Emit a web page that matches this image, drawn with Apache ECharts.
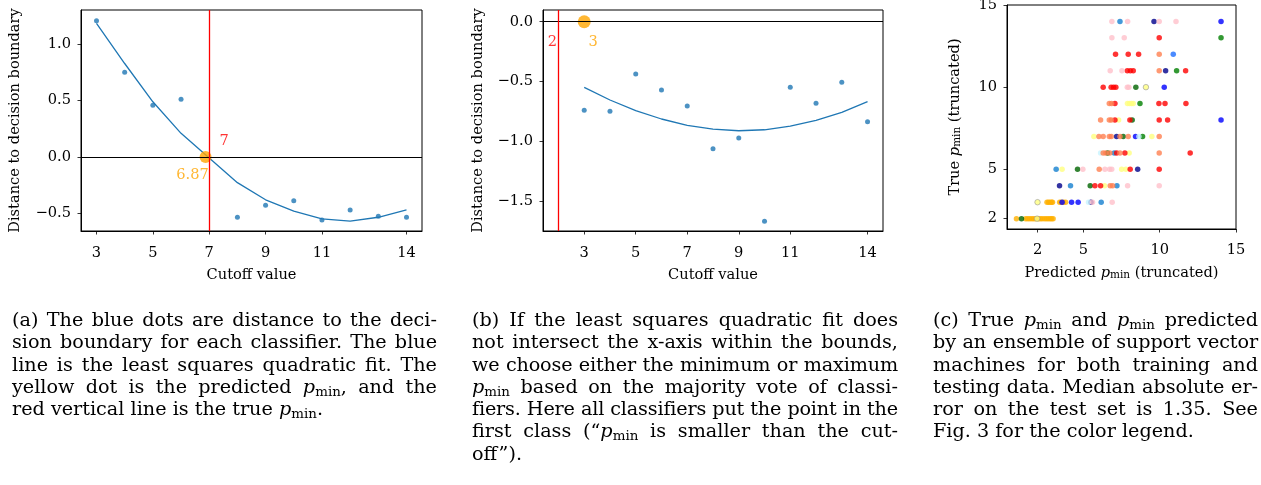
<!DOCTYPE html>
<html><head><meta charset="utf-8">
<script src="https://cdn.jsdelivr.net/npm/echarts@6/dist/echarts.min.js"></script>
<style>
html,body{margin:0;padding:0;background:#fff;}
#wrap{position:relative;width:1261px;height:485px;overflow:hidden;background:#fff;}
#chart{position:absolute;left:0;top:0;width:1261px;height:485px;}
.cap{position:absolute;top:309px;font-family:'DejaVu Serif';font-size:19.2px;line-height:22.3px;color:#000;}
.ln{display:flex;justify-content:space-between;white-space:nowrap;}
.lnlast{white-space:nowrap;}
.probe{position:absolute;visibility:hidden;white-space:nowrap;font-family:'DejaVu Serif';font-size:19.2px;}
sub{font-size:0.7em;vertical-align:-0.25em;line-height:0;}
</style></head>
<body>
<div id="wrap"><div id="chart"></div></div>
<script>
// ---------- Panel (a) data ----------
const aCutoffs = [3, 4, 5, 6, 8, 9, 10, 11, 12, 13, 14];
const aDist    = [1.21, 0.752, 0.459, 0.512, -0.536, -0.429, -0.388, -0.56, -0.471, -0.527, -0.536];
const aFit     = [1.187, 0.83, 0.49, 0.21, -0.228, -0.38, -0.48, -0.55, -0.57, -0.535, -0.47];
const aPred = 6.87;
const aTrue = 7;
const aXTicks = [3, 5, 7, 9, 11, 14];
const aYTicks = [-0.5, 0.0, 0.5, 1.0];

// ---------- Panel (b) data ----------
const bCutoffs = [3, 4, 5, 6, 7, 8, 9, 10, 11, 12, 13, 14];
const bDist    = [-0.74, -0.749, -0.436, -0.57, -0.704, -1.062, -0.972, -1.668, -0.547, -0.682, -0.506, -0.836];
const bFit     = [-0.548, -0.654, -0.743, -0.813, -0.866, -0.897, -0.911, -0.903, -0.872, -0.824, -0.757, -0.668];
const bPred = 3;
const bTrue = 2;
const bXTicks = [3, 5, 7, 9, 11, 14];
const bYTicks = [-1.5, -1.0, -0.5, 0.0];

// ---------- Panel (c) data: [predicted, true] per colour ----------
const cOrange = [[0.62,2],[1.22,2],[1.35,2],[1.48,2],[1.62,2],[1.75,2],[1.88,2],[2.05,2],[2.18,2],[2.3,2],[2.45,2],[2.58,2],[2.7,2],[2.82,2],[2.92,2],[3.02,2],
                 [2.62,3],[2.72,3],[2.82,3],[2.92,3],[2.98,3],[3.45,3],[3.55,3],[3.7,3],[3.84,3]];
const cDarkGreen = [[0.95,2],[5.45,4],[4.62,5],[6.59,6],[7.61,7],[8.2,8],[8.44,10]];
const cGreen = [[8.88,7],[8.71,9],[11.11,11],[14.02,13]];
const cYellow = [[6.39,4],[3.61,5],[7.51,5],[7.79,5],[8.0,6],[5.69,7],[9.49,7],[7.31,8],[7.89,9],[8.02,9],[8.15,9],[8.27,9]];
const cYellowEdged = [[1.97,2],[2.0,3],[9.1,10]];
const cBlue = [[3.61,3],[4.23,3],[4.66,3],[8.42,7],[14.02,8],[10.3,10],[14.02,14]];
const cDarkBlue = [[5.5,3],[3.44,4],[8.56,5],[7.18,7],[10.39,11],[9.63,14]];
const cSteelBlue = [[6.17,3],[4.16,4],[7.2,4],[3.22,5],[7.02,6],[7.4,14]];
const cDodgerBlue = [[10.89,12]];
const cLightCyan = [[5.34,3],[6.13,6],[8.64,7]];
const cRed = [[5.76,4],[6.13,4],[8.07,5],[9.97,5],[7.18,6],[7.72,6],[12.0,6],[7.07,8],[8.05,8],[9.97,8],[10.52,8],
              [7.07,9],[9.95,9],[10.35,9],[11.72,9],[6.3,10],[6.82,10],[6.98,10],[7.13,10],[7.88,11],[8.08,11],[8.27,11],[11.7,11],
              [7.11,12],[7.94,12],[8.62,12],[9.97,13]];
const cCoral = [[6.76,4],[6.92,4],[6.04,5],[6.3,6],[6.48,6],[6.74,6],[7.4,6],[9.97,6],[6.02,7],[6.3,7],[6.7,7],[6.83,7],[7.4,7],[7.94,7],[9.97,7],
                [6.13,8],[6.7,8],[6.83,8],[6.7,9],[6.85,9],[9.97,11],[9.97,12]];
const cPink = [[5.6,3],[6.89,3],[7.9,4],[9.97,4],[4.97,5],[6.41,5],[6.72,5],[6.86,5],[7.88,10],[7.98,10],[6.76,11],[7.53,11],
               [6.87,13],[7.68,13],[6.87,14],[7.9,14],[9.97,14],[11.07,14]];
const cXTicks = [2, 5, 10, 15];
const cYTicks = [2, 5, 10, 15];

// ---------- Captions ----------
const P = '<i>p</i><sub>min</sub>';
const capA = ["(a) The blue dots are distance to the deci-",
  "sion boundary for each classifier. The blue",
  "line is the least squares quadratic fit. The",
  "yellow dot is the predicted " + P + ", and the",
  "red vertical line is the true " + P + "."];
const capB = ["(b) If the least squares quadratic fit does",
  "not intersect the x-axis within the bounds,",
  "we choose either the minimum or maximum",
  P + " based on the majority vote of classi-",
  "fiers. Here all classifiers put the point in the",
  "first class (\u201c" + P + " is smaller than the cut-",
  "off\u201d)."];
const capC = ["(c) True " + P + " and " + P + " predicted",
  "by an ensemble of support vector",
  "machines for both training and",
  "testing data. Median absolute er-",
  "ror on the test set is 1.35. See",
  "Fig. 3 for the color legend."];

// ---------- helpers ----------
const FONT = 'DejaVu Serif';
const FS = 14.6;
const BLUE = '#1f77b4', ORANGE = '#FFA500', RED = '#FF0000';
const zip = (xs, ys) => xs.map((x, i) => [x, ys[i]]);
const fmt1 = v => (v < 0 ? '\u2212' : '') + Math.abs(v).toFixed(1);
const fmt0 = v => String(v);

function axis(gi, min, max, ticks, fmt, name, gap, margin) {
  return {
    type: 'value', gridIndex: gi, min: min, max: max, scale: true,
    splitLine: {show: false},
    axisLine: {show: true, onZero: false, lineStyle: {color: '#000', width: 1}},
    axisTick: {show: true, inside: false, length: 3.5, lineStyle: {color: '#000', width: 0.8}, customValues: ticks},
    axisLabel: {show: true, customValues: ticks, formatter: fmt, margin: margin, color: '#000', fontFamily: FONT, fontSize: FS},
    name: name, nameLocation: 'middle', nameGap: gap,
    nameTextStyle: {color: '#000', fontFamily: FONT, fontSize: FS,
      rich: {
        t: {color: '#000', fontFamily: FONT, fontSize: FS},
        i: {color: '#000', fontFamily: FONT, fontSize: FS, fontStyle: 'italic'},
        s: {color: '#000', fontFamily: FONT, fontSize: 10.5, lineHeight: 10.5, padding: [7, 0, 0, 0], verticalAlign: 'bottom'}
      }}
  };
}

const gridBase = {show: true, borderColor: '#000', borderWidth: 1, backgroundColor: 'transparent', containLabel: false, outerBoundsMode: 'none'};

function refLine(xi, item, color, width) {
  return {
    type: 'line', xAxisIndex: xi, yAxisIndex: xi, data: [], z: 6, silent: true,
    itemStyle: {color: color}, lineStyle: {color: color},
    markLine: {silent: true, symbol: ['none', 'none'], animation: false, label: {show: false},
      lineStyle: {color: color, width: width, type: 'solid', opacity: 1},
      emphasis: {disabled: true},
      data: [item]}
  };
}
function dotLabel(xi, x, txt, color, off, size) {
  return {
    type: 'scatter', xAxisIndex: xi, yAxisIndex: xi, data: [[x, 0]], symbolSize: size, z: 4,
    itemStyle: {color: size > 0 ? color : 'rgba(0,0,0,0)'},
    label: {show: true, position: 'inside', offset: off, formatter: txt, color: color, fontFamily: FONT, fontSize: FS},
    emphasis: {disabled: true}
  };
}
function cSeries(data, color, border) {
  return {type: 'scatter', xAxisIndex: 2, yAxisIndex: 2, data: data, symbolSize: 5.5, z: 3,
    itemStyle: {color: color, borderColor: border || color, borderWidth: border ? 0.8 : 0}, emphasis: {disabled: true}};
}

const option = {
  animation: false,
  textStyle: {fontFamily: FONT},
  grid: [
    Object.assign({left: 81, top: 10, width: 341, height: 221}, gridBase),
    Object.assign({left: 543, top: 10, width: 340, height: 221}, gridBase),
    Object.assign({left: 1007, top: 5, width: 229, height: 224}, gridBase)
  ],
  xAxis: [
    axis(0, 2.45, 14.55, aXTicks, fmt0, 'Cutoff value', 37, 15),
    axis(1, 1.4, 14.6, bXTicks, fmt0, 'Cutoff value', 37, 15),
    axis(2, 0, 15, cXTicks, fmt0, '{t|Predicted }{i|p}{s|min}{t| (truncated)}', 37, 14)
  ],
  yAxis: [
    axis(0, -0.657, 1.305, aYTicks, fmt1, 'Distance to decision boundary', 58, 10),
    axis(1, -1.749, 0.098, bYTicks, fmt1, 'Distance to decision boundary', 57, 10),
    axis(2, 1.37, 15, cYTicks, fmt0, '{t|True }{i|p}{s|min}{t| (truncated)}', 44, 10)
  ],
  series: [
    // panel a
    {type: 'line', xAxisIndex: 0, yAxisIndex: 0, data: zip(aCutoffs, aFit), showSymbol: false, symbol: 'none', z: 2,
      lineStyle: {color: BLUE, width: 1.3}, itemStyle: {color: BLUE}},
    {type: 'scatter', xAxisIndex: 0, yAxisIndex: 0, data: zip(aCutoffs, aDist), symbolSize: 5, z: 3, itemStyle: {color: BLUE}},
    dotLabel(0, aPred, aPred.toFixed(2), ORANGE, [-13, 18], 12),
    dotLabel(0, aTrue, String(aTrue), RED, [15, -16], 0),
    refLine(0, {yAxis: 0}, '#000000', 1.1),
    refLine(0, {xAxis: aTrue}, RED, 1.3),
    // panel b
    {type: 'line', xAxisIndex: 1, yAxisIndex: 1, data: zip(bCutoffs, bFit), showSymbol: false, symbol: 'none', z: 2,
      lineStyle: {color: BLUE, width: 1.3}, itemStyle: {color: BLUE}},
    {type: 'scatter', xAxisIndex: 1, yAxisIndex: 1, data: zip(bCutoffs, bDist), symbolSize: 5, z: 3, itemStyle: {color: BLUE}},
    dotLabel(1, bPred, String(bPred), ORANGE, [9, 20], 13),
    dotLabel(1, bTrue, String(bTrue), RED, [-6, 20], 0),
    refLine(1, {yAxis: 0}, '#000000', 1.1),
    refLine(1, {xAxis: bTrue}, RED, 1.3),
    // panel c
    cSeries(cOrange, '#FFB000'),
    cSeries(cDarkGreen, '#006400'),
    cSeries(cGreen, '#008000'),
    cSeries(cYellow, '#FFFF80'),
    cSeries(cYellowEdged, '#FFFF80', '#999999'),
    cSeries(cBlue, '#0000FF'),
    cSeries(cDarkBlue, '#00008B'),
    cSeries(cSteelBlue, '#1580D0'),
    cSeries(cDodgerBlue, '#1E6EFF'),
    cSeries(cLightCyan, '#C8F4FF'),
    cSeries(cRed, '#FF0000'),
    cSeries(cCoral, '#FF7F50'),
    cSeries(cPink, '#FFC0CB')
  ]
};

const chart = echarts.init(document.getElementById('chart'), null, {renderer: 'canvas'});
chart.setOption(option);

// captions (justified lines as in the original)
const wrap = document.getElementById('wrap');
function makeCap(lines, left, width) {
  const d = document.createElement('div');
  d.className = 'cap'; d.style.left = left + 'px'; d.style.width = width + 'px';
  wrap.appendChild(d);
  lines.forEach((ln, i) => {
    const row = document.createElement('div');
    if (i < lines.length - 1) {
      const probe = document.createElement('span');
      probe.className = 'probe'; probe.innerHTML = ln;
      wrap.appendChild(probe);
      const w = probe.getBoundingClientRect().width;
      const nChars = probe.textContent.length;
      wrap.removeChild(probe);
      row.className = 'ln';
      if (w > width - 3) row.style.letterSpacing = ((width - 3 - w) / nChars).toFixed(3) + 'px';
      row.innerHTML = ln.split(' ').map(t => '<span>' + t + '</span>').join('');
    } else {
      row.className = 'lnlast';
      row.innerHTML = ln;
    }
    d.appendChild(row);
  });
}
makeCap(capA, 12, 425);
makeCap(capB, 472, 426);
makeCap(capC, 933, 325);
</script>
</body></html>
